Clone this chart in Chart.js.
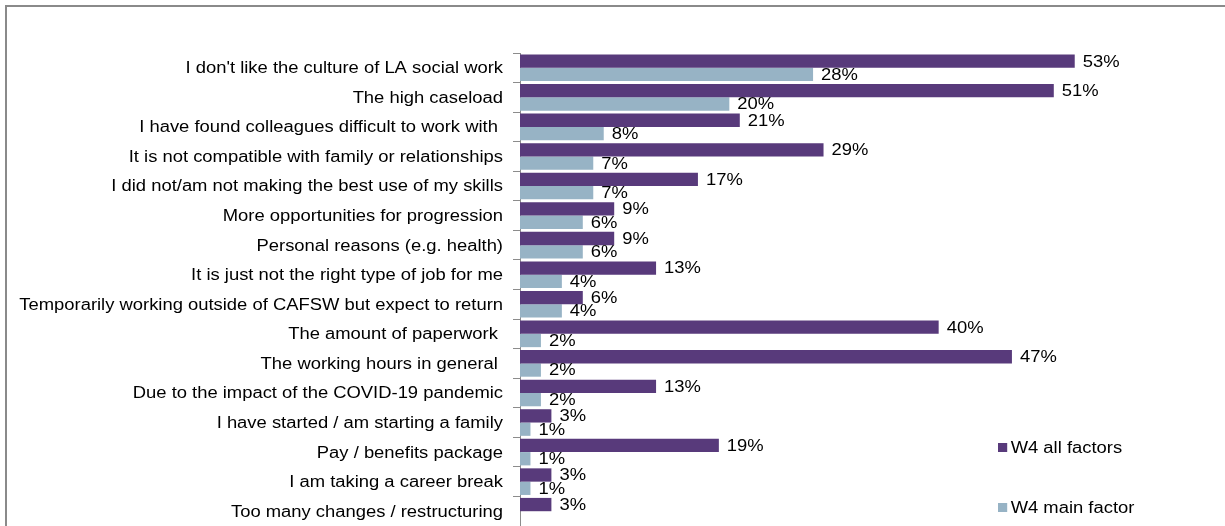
<!DOCTYPE html>
<html>
<head>
<meta charset="utf-8">
<script src="https://cdn.jsdelivr.net/npm/chart.js@4/dist/chart.umd.min.js"></script>
<style>
  html, body { margin: 0; padding: 0; background: #fff; }
  #wrap { position: relative; width: 1225px; height: 526px; overflow: hidden; }
  #frame { position: absolute; left: 5px; top: 5px; width: 1230px; height: 530px;
           border-left: 2px solid #8a8a8a; border-top: 2px solid #8a8a8a; }
  canvas { position: absolute; left: 0; top: 0; }
  .legend-item { position: absolute; left: 998px; font: 16px Arial, "Liberation Sans", sans-serif;
                 color: #000; white-space: nowrap; line-height: 18px;
                 transform: scaleX(1.15); transform-origin: 0 0; }
  .legend-item span { display: inline-block; width: 8px; height: 9px; margin-right: 3px; vertical-align: 1px; }
</style>
</head>
<body>
<div id="wrap">
  <div id="frame"></div>
  <canvas id="chart" width="1225" height="526"></canvas>
  <div id="legend"></div>
</div>
<script>
const categories = [
  "I don't like the culture of LA social work",
  "The high caseload",
  "I have found colleagues difficult to work with ",
  "It is not compatible with family or relationships",
  "I did not/am not making the best use of my skills",
  "More opportunities for progression",
  "Personal reasons (e.g. health)",
  "It is just not the right type of job for me",
  "Temporarily working outside of CAFSW but expect to return",
  "The amount of paperwork ",
  "The working hours in general ",
  "Due to the impact of the COVID-19 pandemic",
  "I have started / am starting a family",
  "Pay / benefits package",
  "I am taking a career break",
  "Too many changes / restructuring"
];
const allFactors = [53, 51, 21, 29, 17, 9, 9, 13, 6, 40, 47, 13, 3, 19, 3, 3];
const mainFactor = [28, 20, 8, 7, 7, 6, 6, 4, 4, 2, 2, 2, 1, 1, 1, null];
const seriesNames = ["W4 all factors", "W4 main factor"];
const seriesColors = ["#583a7b", "#97b3c5"];

const FONT = "Arial, 'Liberation Sans', sans-serif";
const STRETCH = 1.15; // the original text is a bit wider than plain Arial

function wideText(ctx, text, x, y) {
  ctx.save();
  ctx.translate(x, y);
  ctx.scale(STRETCH, 1);
  ctx.fillText(text, 0, 0);
  ctx.restore();
}

// category names on the left and % values past the end of each bar
const textLabels = {
  id: "textLabels",
  afterDatasetsDraw(chart) {
    const ctx = chart.ctx;
    const yScale = chart.scales.y;
    ctx.save();
    ctx.font = "16px " + FONT;
    ctx.fillStyle = "#000";
    ctx.textBaseline = "middle";

    ctx.textAlign = "right";
    categories.forEach((name, i) => {
      wideText(ctx, name, yScale.right - 17, yScale.getPixelForTick(i) + 1);
    });

    ctx.textAlign = "left";
    chart.data.datasets.forEach((ds, i) => {
      const meta = chart.getDatasetMeta(i);
      meta.data.forEach((bar, j) => {
        const v = ds.data[j];
        if (v === null || v === undefined) return;
        wideText(ctx, v + "%", bar.x + 8, bar.y + 1);
      });
    });
    ctx.restore();
  }
};

const ctx = document.getElementById("chart").getContext("2d");
const chart = new Chart(ctx, {
  type: "bar",
  data: {
    labels: categories,
    datasets: [
      { label: seriesNames[0], data: allFactors, backgroundColor: seriesColors[0] },
      { label: seriesNames[1], data: mainFactor, backgroundColor: seriesColors[1] }
    ]
  },
  options: {
    indexAxis: "y",
    responsive: false,
    animation: false,
    categoryPercentage: 0.9,
    barPercentage: 1.0,
    layout: { padding: { left: 0, top: 53, right: 77, bottom: 0 } },
    plugins: {
      legend: { display: false },
      tooltip: { enabled: false }
    },
    scales: {
      x: { display: false, min: 0, max: 60 },
      y: {
        afterFit: (scale) => {
          scale.width = 520;
          scale.paddingTop = 0;
          scale.paddingBottom = 0;
        },
        grid: { display: true, drawOnChartArea: false, drawTicks: true, tickLength: 7, color: "#8c8c8c" },
        border: { display: true, color: "#8c8c8c", width: 1 },
        ticks: { display: false }
      }
    }
  },
  plugins: [textLabels]
});

// legend built from the series arrays
const legendTops = [439, 499];
const legend = document.getElementById("legend");
seriesNames.forEach((name, i) => {
  const d = document.createElement("div");
  d.className = "legend-item";
  d.style.top = legendTops[i] + "px";
  d.innerHTML = '<span style="background:' + seriesColors[i] + '"></span>' + name;
  legend.appendChild(d);
});
</script>
</body>
</html>
